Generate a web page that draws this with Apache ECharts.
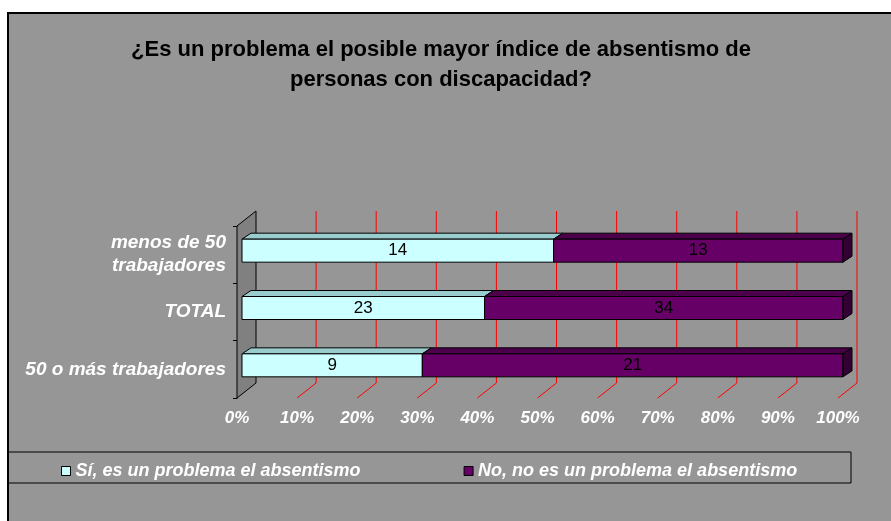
<!DOCTYPE html>
<html>
<head>
<meta charset="utf-8">
<script src="https://cdn.jsdelivr.net/npm/echarts@6/dist/echarts.min.js"></script>
<style>
  html, body { margin: 0; padding: 0; background: #fff; }
  #main { width: 891px; height: 521px; }
</style>
</head>
<body>
<div id="main"></div>
<script>
// categories top to bottom
const categories = ['menos de 50\ntrabajadores', 'TOTAL', '50 o más trabajadores'];
const seriesNames = ['Sí, es un problema el absentismo', 'No, no es un problema el absentismo'];
const siValues = [14, 23, 9];
const noValues = [13, 34, 21];
const xTicks = [0, 10, 20, 30, 40, 50, 60, 70, 80, 90, 100];

const FONT = '"Liberation Sans", Arial, sans-serif';
const FLOOR_DX = 19, FLOOR_DY = 15;   // depth of walls / floor
const BAR_DX = 9, BAR_DY = 6;         // depth of the bars
const BAR_H = 23;

const faces = [
  { front: '#ccffff', top: '#99cccc', side: '#669999' },
  { front: '#660066', top: '#4c004c', side: '#330033' }
];

// percent stacks
const siData = [], noData = [];
categories.forEach(function (c, i) {
  const total = siValues[i] + noValues[i];
  const p = siValues[i] / total * 100;
  siData.push([i, 0, p, siValues[i]]);
  noData.push([i, p, 100, noValues[i]]);
});

function renderBar(idx) {
  return function (params, api) {
    const cat = api.value(0);
    const p0 = api.coord([api.value(1), cat]);
    const p1 = api.coord([api.value(2), cat]);
    const x0 = p0[0], x1 = p1[0];
    const y0 = p0[1] - BAR_H / 2;
    const f = faces[idx];
    const children = [
      {
        type: 'polygon',
        shape: { points: [[x0, y0], [x0 + BAR_DX, y0 - BAR_DY], [x1 + BAR_DX, y0 - BAR_DY], [x1, y0]] },
        style: { fill: f.top, stroke: '#000', lineWidth: 1 }
      },
      {
        type: 'rect',
        shape: { x: x0, y: y0, width: x1 - x0, height: BAR_H },
        style: { fill: f.front, stroke: '#000', lineWidth: 1 }
      }
    ];
    if (api.value(2) >= 100) {
      children.push({
        type: 'polygon',
        shape: { points: [[x1, y0], [x1 + BAR_DX, y0 - BAR_DY], [x1 + BAR_DX, y0 + BAR_H - BAR_DY], [x1, y0 + BAR_H]] },
        style: { fill: f.side, stroke: '#000', lineWidth: 1 }
      });
    }
    children.push({
      type: 'text',
      style: {
        text: String(api.value(3)),
        x: (x0 + x1) / 2, y: y0 + BAR_H / 2,
        align: 'center', verticalAlign: 'middle',
        fill: '#000', font: '17px ' + FONT
      }
    });
    return { type: 'group', children: children };
  };
}

// wall, back grid lines, floor lines
function renderFrame(params, api) {
  const cs = params.coordSys;
  const left = cs.x, top = cs.y, bottom = cs.y + cs.height;
  const v = api.value(0);
  if (v === 0) {
    return {
      type: 'polygon',
      shape: { points: [[left, bottom], [left, top], [left + FLOOR_DX, top - FLOOR_DY], [left + FLOOR_DX, bottom - FLOOR_DY]] },
      style: { fill: '#808080', stroke: '#000', lineWidth: 1 }
    };
  }
  const x = api.coord([v, 0])[0];
  return {
    type: 'polyline',
    shape: { points: [[x, bottom], [x + FLOOR_DX, bottom - FLOOR_DY], [x + FLOOR_DX, top - FLOOR_DY]] },
    style: { stroke: '#ff0000', lineWidth: 1, fill: null }
  };
}

const chart = echarts.init(document.getElementById('main'));
const labelStyle = { color: '#fff', fontWeight: 'bold', fontStyle: 'italic', fontSize: 17, fontFamily: FONT };

chart.setOption({
  backgroundColor: '#fff',
  animation: false,
  graphic: [
    {
      type: 'rect', z: -10, silent: true,
      shape: { x: 8, y: 13, width: 900, height: 520 },
      style: { fill: '#969696', stroke: '#000', lineWidth: 2 }
    },
    {
      type: 'rect', z: -5, silent: true,
      shape: { x: 8, y: 452, width: 843, height: 31 },
      style: { fill: 'none', stroke: '#000', lineWidth: 1 }
    }
  ],
  title: {
    text: '¿Es un problema el posible mayor índice de absentismo de\npersonas con discapacidad?',
    left: 436, top: 30, textAlign: 'center',
    textStyle: { color: '#000', fontSize: 22, fontWeight: 'bold', fontFamily: FONT, lineHeight: 30 }
  },
  legend: {
    data: seriesNames,
    left: 56, top: 457,
    itemWidth: 9, itemHeight: 9, itemGap: 103,
    icon: 'rect',
    itemStyle: { borderColor: '#000', borderWidth: 1 },
    textStyle: { color: '#fff', fontWeight: 'bold', fontStyle: 'italic', fontSize: 18, fontFamily: FONT }
  },
  grid: [
    { left: 237, width: 601, top: 226, height: 172 },
    { left: 242, width: 601, top: 222, height: 172 }
  ],
  xAxis: [
    {
      gridIndex: 0, type: 'value', min: 0, max: 100, interval: 10,
      axisLine: { show: false }, axisTick: { show: false }, splitLine: { show: false },
      axisLabel: Object.assign({ formatter: '{value}%', margin: 12 }, labelStyle)
    },
    {
      gridIndex: 1, type: 'value', min: 0, max: 100, show: false, splitLine: { show: false }
    }
  ],
  yAxis: [
    {
      gridIndex: 0, type: 'category', data: categories, inverse: true,
      axisLine: { show: true, lineStyle: { color: '#000', width: 1 } },
      axisTick: { show: true, length: 4, lineStyle: { color: '#000' } },
      axisLabel: Object.assign({}, labelStyle, { margin: 11, lineHeight: 23, align: 'right', fontSize: 19 })
    },
    {
      gridIndex: 1, type: 'category', data: categories, inverse: true, show: false
    }
  ],
  series: [
    {
      type: 'custom', name: 'frame', xAxisIndex: 0, yAxisIndex: 0, z: 1,
      data: xTicks.map(function (t) { return [t]; }),
      renderItem: renderFrame, silent: true
    },
    {
      type: 'custom', name: seriesNames[0], xAxisIndex: 1, yAxisIndex: 1, z: 3,
      itemStyle: { color: faces[0].front },
      encode: { x: [1, 2], y: 0 },
      data: siData, renderItem: renderBar(0)
    },
    {
      type: 'custom', name: seriesNames[1], xAxisIndex: 1, yAxisIndex: 1, z: 4,
      itemStyle: { color: faces[1].front },
      encode: { x: [1, 2], y: 0 },
      data: noData, renderItem: renderBar(1)
    }
  ]
});
</script>
</body>
</html>
